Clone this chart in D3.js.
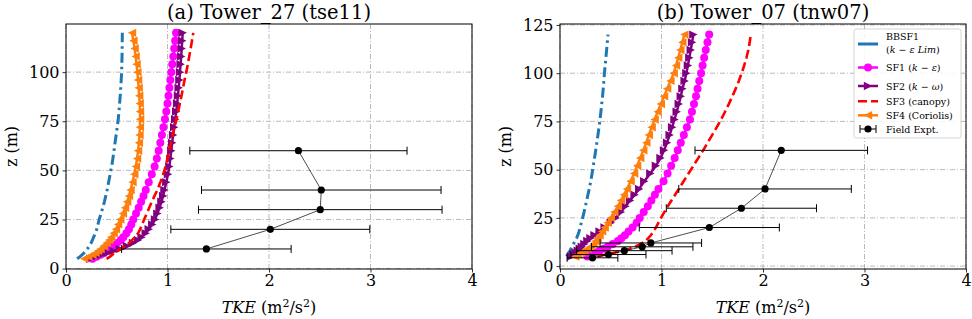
<!DOCTYPE html>
<html>
<head>
<meta charset="utf-8">
<script src="https://cdn.jsdelivr.net/npm/d3@7"></script>
<style>
  body { margin: 0; background: #fff; }
  svg { display: block; }
  text { font-family: "DejaVu Serif", "Liberation Serif", serif; fill: #000; }
</style>
</head>
<body>
<svg id="chart" width="972" height="319"></svg>
<script>
// heights of the model profiles (m)
const Z_LEVELS = [5, 6, 7, 8, 9, 10, 11.5, 13, 14.5, 16, 18, 20, 22.5, 25, 28, 31, 34, 37, 40, 44,
                  48, 52, 56, 60, 64, 68, 72, 76, 80, 84, 88, 92, 96, 100, 104, 108, 112, 116, 120];

// (a) Tower_27 - TKE of each model
const A_BBSF1 = [0.11, 0.135, 0.158, 0.178, 0.195, 0.21, 0.23, 0.247, 0.26, 0.272, 0.29, 0.303, 0.315, 0.327, 0.345, 0.362, 0.378, 0.392, 0.405, 0.42,
                 0.435, 0.45, 0.462, 0.473, 0.483, 0.494, 0.505, 0.515, 0.522, 0.528, 0.534, 0.539, 0.544, 0.548, 0.55, 0.552, 0.553, 0.554, 0.555];
const A_SF1 = [0.26, 0.3, 0.34, 0.375, 0.405, 0.43, 0.47, 0.505, 0.54, 0.565, 0.595, 0.62, 0.643, 0.663, 0.69, 0.716, 0.74, 0.764, 0.786, 0.815,
               0.845, 0.873, 0.895, 0.913, 0.929, 0.945, 0.96, 0.975, 0.988, 1.0, 1.01, 1.019, 1.028, 1.037, 1.047, 1.057, 1.066, 1.075, 1.084];
const A_SF2 = [0.24, 0.29, 0.35, 0.41, 0.47, 0.53, 0.6, 0.66, 0.71, 0.745, 0.785, 0.815, 0.85, 0.877, 0.9, 0.922, 0.94, 0.957, 0.97, 0.988,
               1.005, 1.018, 1.028, 1.037, 1.046, 1.055, 1.066, 1.076, 1.086, 1.095, 1.103, 1.11, 1.117, 1.123, 1.129, 1.135, 1.14, 1.145, 1.15];
const A_SF3 = [0.4, 0.43, 0.455, 0.48, 0.51, 0.54, 0.58, 0.62, 0.65, 0.68, 0.71, 0.73, 0.75, 0.77, 0.795, 0.82, 0.845, 0.872, 0.9, 0.93,
               0.958, 0.98, 1.0, 1.017, 1.035, 1.052, 1.07, 1.088, 1.105, 1.122, 1.138, 1.153, 1.168, 1.185, 1.2, 1.214, 1.228, 1.241, 1.254];
const A_SF4 = [0.18, 0.22, 0.26, 0.29, 0.315, 0.34, 0.37, 0.4, 0.425, 0.445, 0.47, 0.492, 0.513, 0.535, 0.56, 0.582, 0.602, 0.62, 0.636, 0.655,
               0.672, 0.688, 0.7, 0.71, 0.718, 0.724, 0.728, 0.73, 0.729, 0.726, 0.721, 0.716, 0.71, 0.703, 0.695, 0.686, 0.676, 0.664, 0.65];
const A_OBS_Z = [10, 20, 30, 40, 60];
const A_OBS_TKE = [1.383, 2.013, 2.505, 2.515, 2.29];
const A_OBS_ERR = [0.835, 0.98, 1.2, 1.18, 1.07];

// (b) Tower_07
const B_BBSF1 = [0.065, 0.076, 0.087, 0.098, 0.108, 0.118, 0.133, 0.148, 0.163, 0.176, 0.188, 0.198, 0.21, 0.223, 0.237, 0.25, 0.263, 0.275, 0.288, 0.303,
                 0.316, 0.328, 0.34, 0.352, 0.363, 0.374, 0.384, 0.394, 0.403, 0.411, 0.419, 0.426, 0.432, 0.438, 0.445, 0.452, 0.459, 0.466, 0.473];
const B_SF1 = [0.27, 0.31, 0.35, 0.39, 0.43, 0.47, 0.52, 0.57, 0.605, 0.64, 0.675, 0.715, 0.755, 0.785, 0.825, 0.865, 0.9, 0.935, 0.97, 1.02,
               1.06, 1.095, 1.13, 1.16, 1.19, 1.22, 1.25, 1.28, 1.3, 1.32, 1.34, 1.355, 1.372, 1.39, 1.405, 1.42, 1.436, 1.453, 1.47];
const B_SF2 = [0.11, 0.13, 0.155, 0.175, 0.195, 0.215, 0.24, 0.27, 0.3, 0.34, 0.39, 0.44, 0.5, 0.55, 0.6, 0.645, 0.69, 0.735, 0.78, 0.83,
               0.89, 0.945, 0.99, 1.025, 1.055, 1.08, 1.105, 1.128, 1.15, 1.17, 1.19, 1.206, 1.228, 1.245, 1.26, 1.274, 1.288, 1.301, 1.314];
const B_SF3 = [0.37, 0.45, 0.54, 0.62, 0.685, 0.74, 0.795, 0.84, 0.87, 0.895, 0.922, 0.945, 0.97, 0.995, 1.028, 1.062, 1.098, 1.134, 1.17, 1.218,
               1.266, 1.314, 1.362, 1.41, 1.455, 1.5, 1.545, 1.587, 1.626, 1.663, 1.698, 1.731, 1.762, 1.79, 1.815, 1.837, 1.855, 1.869, 1.88];
const B_SF4 = [0.15, 0.18, 0.21, 0.24, 0.27, 0.3, 0.33, 0.35, 0.37, 0.39, 0.415, 0.44, 0.47, 0.5, 0.535, 0.57, 0.6, 0.63, 0.66, 0.695,
               0.73, 0.76, 0.79, 0.82, 0.85, 0.875, 0.903, 0.932, 0.962, 0.993, 1.025, 1.055, 1.088, 1.12, 1.143, 1.165, 1.185, 1.205, 1.225];
const B_OBS_Z = [4.3, 6, 8, 10, 12, 20, 30, 40, 60];
const B_OBS_TKE = [0.32, 0.477, 0.634, 0.81, 0.895, 1.471, 1.787, 2.02, 2.18];
const B_OBS_ERR = [0.25, 0.37, 0.47, 0.5, 0.5, 0.69, 0.74, 0.85, 0.85];

// ticks and labels
const X_TICKS = [0, 1, 2, 3, 4];
const A_Y_TICKS = [0, 25, 50, 75, 100];
const B_Y_TICKS = [0, 25, 50, 75, 100, 125];
const TITLES = ["(a) Tower_27 (tse11)", "(b) Tower_07 (tnw07)"];
const SERIES_KEYS = ["BBSF1", "SF1", "SF2", "SF3", "SF4"];
// legend labels: [text, italic]
const LEGEND_LABELS = {
    BBSF1: [[["BBSF1", false]], [[" (", false], ["k", true], [" \u2212 ", false], ["\u03b5", true], [" ", false], ["Lim", true], [")", false]]],
    SF1: [[["SF1 (", false], ["k", true], [" \u2212 ", false], ["\u03b5", true], [")", false]]],
    SF2: [[["SF2 (", false], ["k", true], [" \u2212 ", false], ["\u03c9", true], [")", false]]],
    SF3: [[["SF3 (canopy)", false]]],
    SF4: [[["SF4 (Coriolis)", false]]],
    OBS: [[["Field Expt.", false]]]
};

// look of each series
const STYLE = {
    BBSF1: { color: "#1f77b4", width: 3, dash: "10,4,2.5,4", marker: null },
    SF1:   { color: "#ff00ff", width: 2.5, dash: null, marker: "circle" },
    SF2:   { color: "#800080", width: 2.5, dash: null, marker: "right" },
    SF3:   { color: "#ff0000", width: 2.6, dash: "9,4", marker: null },
    SF4:   { color: "#ff7f0e", width: 2.5, dash: null, marker: "left" }
};

const svg = d3.select("#chart");
const plotW = 406, plotTop = 24, plotBottom = 269;

function drawMarker(g, kind, color, cx, cy) {
    if (kind === "circle") {
        g.append("circle").attr("cx", cx).attr("cy", cy).attr("r", 4).attr("fill", color);
    } else if (kind === "right") {
        const s = 4.2;
        g.append("path")
            .attr("d", `M${cx + s},${cy} L${cx - s},${cy - s} L${cx - s},${cy + s} Z`)
            .attr("fill", color);
    } else if (kind === "left") {
        const s = 4.2;
        g.append("path")
            .attr("d", `M${cx - s},${cy} L${cx + s},${cy - s} L${cx + s},${cy + s} Z`)
            .attr("fill", color);
    }
}

function addRichText(g, x, y, parts, size) {
    const t = g.append("text").attr("x", x).attr("y", y).attr("font-size", size);
    parts.forEach(p => {
        t.append("tspan").attr("font-style", p[1] ? "italic" : "normal").text(p[0]);
    });
    return t;
}

function drawPanel(left, yDomain, yTicks, title, series, obs) {
    const x = d3.scaleLinear().domain([0, 4]).range([left, left + plotW]);
    const y = d3.scaleLinear().domain(yDomain).range([plotBottom, plotTop]);
    const g = svg.append("g");

    // grid
    const grid = g.append("g").attr("stroke", "#a8a8a8").attr("stroke-width", 0.8)
        .attr("stroke-dasharray", "5,2,1,2");
    X_TICKS.forEach(t => grid.append("line")
        .attr("x1", x(t)).attr("x2", x(t)).attr("y1", plotTop).attr("y2", plotBottom));
    yTicks.forEach(t => grid.append("line")
        .attr("x1", left).attr("x2", left + plotW).attr("y1", y(t)).attr("y2", y(t)));

    // axes
    const xAxis = g.append("g")
        .attr("transform", `translate(0,${plotBottom})`)
        .call(d3.axisBottom(x).tickValues(X_TICKS).tickFormat(d3.format("d")).tickSize(3.5).tickPadding(2));
    const yAxis = g.append("g")
        .attr("transform", `translate(${left},0)`)
        .call(d3.axisLeft(y).tickValues(yTicks).tickFormat(d3.format("d")).tickSize(3.5).tickPadding(3));
    [xAxis, yAxis].forEach(a => {
        a.attr("font-family", null);
        a.select(".domain").remove();
        a.selectAll("line").attr("stroke", "#000").attr("stroke-width", 0.8);
        a.selectAll("text").attr("font-size", 16).attr("fill", "#000");
    });

    // model profiles
    const line = d3.line().x(d => x(d[0])).y(d => y(d[1]));
    SERIES_KEYS.forEach(key => {
        const st = STYLE[key];
        const pts = series[key].map((v, i) => [v, Z_LEVELS[i]]);
        g.append("path")
            .attr("d", line(pts))
            .attr("fill", "none")
            .attr("stroke", st.color)
            .attr("stroke-width", st.width)
            .attr("stroke-dasharray", st.dash);
        if (st.marker) {
            const mg = g.append("g");
            pts.forEach(p => drawMarker(mg, st.marker, st.color, x(p[0]), y(p[1])));
        }
    });

    // field measurements with error bars
    const og = g.append("g");
    obs.z.forEach((z, i) => {
        const yy = y(z);
        const x1 = x(obs.tke[i] - obs.err[i]), x2 = x(obs.tke[i] + obs.err[i]);
        og.append("line").attr("x1", x1).attr("x2", x2).attr("y1", yy).attr("y2", yy)
            .attr("stroke", "#000").attr("stroke-width", 1);
        [x1, x2].forEach(xc => og.append("line").attr("x1", xc).attr("x2", xc)
            .attr("y1", yy - 4).attr("y2", yy + 4).attr("stroke", "#000").attr("stroke-width", 1));
    });
    og.append("path")
        .attr("d", line(obs.z.map((z, i) => [obs.tke[i], z])))
        .attr("fill", "none").attr("stroke", "#000").attr("stroke-width", 0.7);
    obs.z.forEach((z, i) => og.append("circle")
        .attr("cx", x(obs.tke[i])).attr("cy", y(z)).attr("r", 3.6).attr("fill", "#000"));

    // frame
    g.append("rect").attr("x", left).attr("y", plotTop).attr("width", plotW)
        .attr("height", plotBottom - plotTop).attr("fill", "none")
        .attr("stroke", "#000").attr("stroke-width", 1);

    // title
    g.append("text").attr("x", left + plotW / 2).attr("y", 19).attr("text-anchor", "middle")
        .attr("font-size", 19.5).text(title);

    // axis labels
    g.append("text")
        .attr("transform", `translate(${left - 49},${(plotTop + plotBottom) / 2}) rotate(-90)`)
        .attr("text-anchor", "middle").attr("font-size", 16).text("z (m)");
    const xl = g.append("text").attr("x", left + plotW / 2).attr("y", 313)
        .attr("text-anchor", "middle").attr("font-size", 16);
    xl.append("tspan").attr("font-style", "italic").text("TKE");
    xl.append("tspan").text(" (m");
    xl.append("tspan").attr("font-size", 11).attr("dy", -6).text("2");
    xl.append("tspan").attr("dy", 6).text("/s");
    xl.append("tspan").attr("font-size", 11).attr("dy", -6).text("2");
    xl.append("tspan").attr("dy", 6).text(")");

    return g;
}

function drawLegend(left, top) {
    const g = svg.append("g").attr("transform", `translate(${left},${top})`);
    g.append("rect").attr("width", 107).attr("height", 109).attr("rx", 2)
        .attr("fill", "#fff").attr("fill-opacity", 0.85)
        .attr("stroke", "#cccccc").attr("stroke-width", 0.8);
    const hx1 = 4, hx2 = 24, tx = 32, fs = 9.5;
    const rows = [
        { key: "BBSF1", y: 15 },
        { key: "SF1", y: 38.5 },
        { key: "SF2", y: 57 },
        { key: "SF3", y: 72.3 },
        { key: "SF4", y: 86.3 },
        { key: "OBS", y: 100 }
    ];
    rows.forEach(r => {
        if (r.key === "OBS") {
            g.append("line").attr("x1", hx1 + 2).attr("x2", hx2 - 2).attr("y1", r.y).attr("y2", r.y)
                .attr("stroke", "#000").attr("stroke-width", 1);
            [hx1 + 2, hx2 - 2].forEach(xc => g.append("line").attr("x1", xc).attr("x2", xc)
                .attr("y1", r.y - 4).attr("y2", r.y + 4).attr("stroke", "#000").attr("stroke-width", 1));
            g.append("circle").attr("cx", (hx1 + hx2) / 2).attr("cy", r.y).attr("r", 3.6).attr("fill", "#000");
        } else {
            const st = STYLE[r.key];
            g.append("line").attr("x1", hx1).attr("x2", hx2).attr("y1", r.y).attr("y2", r.y)
                .attr("stroke", st.color).attr("stroke-width", st.width)
                .attr("stroke-dasharray", r.key === "SF3" ? "9,4" : null);
            if (st.marker) drawMarker(g, st.marker, st.color, (hx1 + hx2) / 2, r.y);
        }
        const lines = LEGEND_LABELS[r.key];
        if (lines.length === 1) {
            addRichText(g, tx, r.y + 3.5, lines[0], fs);
        } else {
            addRichText(g, tx, r.y - 4, lines[0], fs);
            addRichText(g, tx, r.y + 8.5, lines[1], fs);
        }
    });
}

drawPanel(66, [-0.2, 124.5], A_Y_TICKS, TITLES[0],
    { BBSF1: A_BBSF1, SF1: A_SF1, SF2: A_SF2, SF3: A_SF3, SF4: A_SF4 },
    { z: A_OBS_Z, tke: A_OBS_TKE, err: A_OBS_ERR });

drawPanel(560, [-1.5, 125.5], B_Y_TICKS, TITLES[1],
    { BBSF1: B_BBSF1, SF1: B_SF1, SF2: B_SF2, SF3: B_SF3, SF4: B_SF4 },
    { z: B_OBS_Z, tke: B_OBS_TKE, err: B_OBS_ERR });

drawLegend(854, 29);
</script>
</body>
</html>
